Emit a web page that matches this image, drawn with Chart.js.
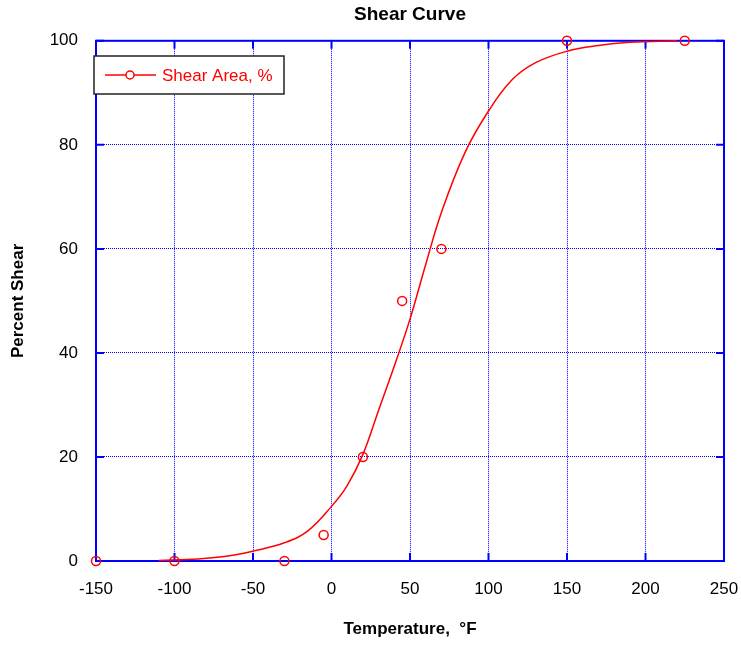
<!DOCTYPE html>
<html>
<head>
<meta charset="utf-8">
<title>Shear Curve</title>
<script src="https://cdn.jsdelivr.net/npm/chart.js@4.4.1/dist/chart.umd.min.js"></script>
<style>
  html, body { margin: 0; padding: 0; background: #fff; }
</style>
</head>
<body>
<canvas id="chart" width="741" height="645"></canvas>
<script>
// measured specimens
const tempF = [-150, -100, -30, -5, 20, 45, 70, 150, 225];
const shearPct = [0, 0, 0, 5, 20, 50, 60, 100, 100];

// fitted curve
const curveTemp = [-110, -85, -65, -50, -30, -15, 0, 10, 20, 30, 40, 50, 60, 70, 85, 100, 115, 130, 150, 170, 190, 220];
const curvePct = [0.1, 0.4, 1.0, 1.9, 3.5, 5.8, 10.5, 14.5, 20.5, 29, 37.5, 46.5, 57, 67, 78.5, 86.5, 92.5, 95.8, 98, 99.1, 99.7, 100];

const BLUE = "#0000ff";
const RED = "#ff0000";
const FONT = '"Liberation Sans", Arial, sans-serif';

Chart.defaults.font.family = FONT;
Chart.defaults.color = "#000";

// box around the plot, inward tick marks and the legend
const framePlugin = {
  id: "frame",
  beforeDatasetsDraw(chart) {
    const { ctx, chartArea: a, scales } = chart;
    const x = scales.x, y = scales.y;
    const len = 8;
    ctx.save();
    ctx.strokeStyle = BLUE;
    ctx.lineWidth = 2;
    ctx.strokeRect(a.left, a.top, a.right - a.left, a.bottom - a.top);
    ctx.beginPath();
    x.ticks.forEach((t) => {
      const px = x.getPixelForValue(t.value);
      ctx.moveTo(px, a.bottom);
      ctx.lineTo(px, a.bottom - len);
      ctx.moveTo(px, a.top);
      ctx.lineTo(px, a.top + len);
    });
    y.ticks.forEach((t) => {
      const py = y.getPixelForValue(t.value);
      ctx.moveTo(a.left, py);
      ctx.lineTo(a.left + len, py);
      ctx.moveTo(a.right, py);
      ctx.lineTo(a.right - len, py);
    });
    ctx.stroke();
    ctx.restore();
  },
  afterDraw(chart) {
    const ctx = chart.ctx;
    const label = chart.data.datasets[1].label;
    ctx.save();
    ctx.fillStyle = "#fff";
    ctx.fillRect(94, 56, 190, 38);
    ctx.strokeStyle = "#222";
    ctx.lineWidth = 1.5;
    ctx.strokeRect(94, 56, 190, 38);
    ctx.strokeStyle = RED;
    ctx.lineWidth = 1.5;
    ctx.beginPath();
    ctx.moveTo(105, 75);
    ctx.lineTo(156, 75);
    ctx.stroke();
    ctx.beginPath();
    ctx.arc(130, 75, 4, 0, Math.PI * 2);
    ctx.fillStyle = "#fff";
    ctx.fill();
    ctx.stroke();
    ctx.fillStyle = RED;
    ctx.font = "17px " + FONT;
    ctx.textBaseline = "middle";
    ctx.fillText(label, 162, 76);
    ctx.restore();
  },
};

new Chart(document.getElementById("chart"), {
  type: "line",
  data: {
    datasets: [
      {
        label: "Fit",
        data: curveTemp.map((t, i) => ({ x: t, y: curvePct[i] })),
        borderColor: RED,
        borderWidth: 1.5,
        pointRadius: 0,
        tension: 0.4,
        fill: false,
        clip: false,
      },
      {
        label: "Shear Area, %",
        data: tempF.map((t, i) => ({ x: t, y: shearPct[i] })),
        showLine: false,
        borderColor: RED,
        backgroundColor: "rgba(0,0,0,0)",
        borderWidth: 1.5,
        pointRadius: 4.5,
        pointStyle: "circle",
        clip: false,
      },
    ],
  },
  options: {
    responsive: false,
    animation: false,
    layout: { padding: { left: 0, right: 17, top: 0, bottom: 0 } },
    plugins: {
      legend: { display: false },
      tooltip: { enabled: false },
      title: {
        display: true,
        text: "Shear Curve",
        fullSize: false,
        color: "#000",
        font: { size: 19, weight: "bold" },
        padding: { top: 3, bottom: 15 },
      },
    },
    scales: {
      x: {
        type: "linear",
        min: -150,
        max: 250,
        afterFit: (s) => {
          s.height = 84;
          s.paddingLeft = 0;
          s.paddingRight = 0;
        },
        ticks: { stepSize: 50, padding: 18, font: { size: 17 }, color: "#000" },
        grid: { color: BLUE, lineWidth: 1, drawTicks: false },
        border: { display: false, dash: [1, 1] },
        title: {
          display: true,
          text: "Temperature,  °F",
          color: "#000",
          font: { size: 17, weight: "bold" },
          padding: { top: 0, bottom: 5 },
        },
      },
      y: {
        type: "linear",
        min: 0,
        max: 100,
        afterFit: (s) => { s.width = 96; },
        ticks: { stepSize: 20, padding: 18, font: { size: 17 }, color: "#000" },
        grid: { color: BLUE, lineWidth: 1, drawTicks: false },
        border: { display: false, dash: [1, 1] },
        title: {
          display: true,
          text: "Percent Shear",
          color: "#000",
          font: { size: 17, weight: "bold" },
          padding: { top: 8, bottom: 0 },
        },
      },
    },
  },
  plugins: [framePlugin],
});
</script>
</body>
</html>
